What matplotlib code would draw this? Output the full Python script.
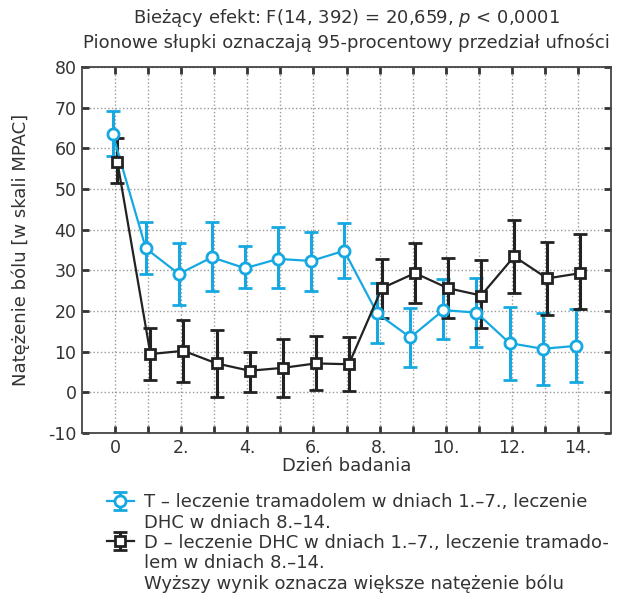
import matplotlib

matplotlib.use("Agg")
import matplotlib.pyplot as plt
from matplotlib.lines import Line2D

plt.rcParams["font.family"] = ["DejaVu Sans"]

# days of the study
DAYS = list(range(15))

# T group: tramadol days 1-7, DHC days 8-14
T_MEAN = [63.5, 35.4, 29.1, 33.2, 30.5, 32.8, 32.3, 34.8, 19.4, 13.5, 20.2, 19.6, 12.1, 10.7, 11.4]
T_LOW = [58.0, 29.0, 21.5, 25.0, 25.6, 25.6, 24.9, 28.0, 12.1, 6.2, 13.0, 11.2, 2.9, 1.8, 2.5]
T_HIGH = [69.2, 41.8, 36.6, 41.8, 36.0, 40.7, 39.5, 41.6, 26.8, 20.8, 27.8, 28.2, 20.9, 19.6, 20.5]

# D group: DHC days 1-7, tramadol days 8-14
D_MEAN = [56.7, 9.4, 10.2, 7.1, 5.3, 6.0, 7.1, 6.9, 25.6, 29.3, 25.6, 23.8, 33.4, 28.0, 29.3]
D_LOW = [51.4, 3.0, 2.6, -1.1, 0.0, -1.2, 0.6, 0.2, 18.2, 21.9, 18.2, 15.7, 24.4, 19.0, 20.4]
D_HIGH = [62.6, 15.7, 17.8, 15.3, 10.0, 13.0, 13.9, 13.7, 32.8, 36.6, 33.0, 32.6, 42.4, 37.0, 38.9]

X_TICKLABELS = ["0", "", "2.", "", "4.", "", "6.", "", "8.", "", "10.", "", "12.", "", "14."]

TITLE = ("Bieżący efekt: F(14, 392) = 20,659, $\\it{p}$ < 0,0001\n"
         "Pionowe słupki oznaczają 95-procentowy przedział ufności")
X_LABEL = "Dzień badania"
Y_LABEL = "Natężenie bólu [w skali MPAC]"
LEGEND_LINES = [
    "T – leczenie tramadolem w dniach 1.–7., leczenie",
    "DHC w dniach 8.–14.",
    "D – leczenie DHC w dniach 1.–7., leczenie tramado-",
    "lem w dniach 8.–14.",
    "Wyższy wynik oznacza większe natężenie bólu",
]

CYAN = "#16a9e1"
DARK = "#222222"
OFFSET = 0.07
FS = 13
TICK_FS = 12.5


def draw(ax, xs, mean, low, high, color, marker, ms):
    yerr = [[m - lo for m, lo in zip(mean, low)], [hi - m for m, hi in zip(mean, high)]]
    return ax.errorbar(
        xs, mean, yerr=yerr,
        color=color, ecolor=color, elinewidth=2.2, capsize=5, capthick=2.2,
        linewidth=1.6, marker=marker, markersize=ms, markerfacecolor="white",
        markeredgecolor=color, markeredgewidth=2.0, zorder=3,
    )


def main():
    fig = plt.figure(figsize=(6.21, 5.98), dpi=100)
    ax = fig.add_axes([0.132, 0.276, 0.852, 0.612])

    t_x = [d - OFFSET for d in DAYS]
    d_x = [d + OFFSET for d in DAYS]
    h_t = draw(ax, t_x, T_MEAN, T_LOW, T_HIGH, CYAN, "o", 8)
    h_d = draw(ax, d_x, D_MEAN, D_LOW, D_HIGH, DARK, "s", 7)

    ax.set_xlim(-1, 15)
    ax.set_ylim(-10, 80)
    ax.set_xticks(DAYS)
    ax.set_xticklabels(X_TICKLABELS, fontsize=TICK_FS, color="#333333")
    ax.set_yticks(range(-10, 81, 10))
    ax.set_yticklabels([str(v) for v in range(-10, 81, 10)], fontsize=TICK_FS, color="#333333")
    ax.tick_params(direction="in", length=5, width=2, color="#333333",
                   top=True, right=True, pad=4)
    ax.grid(True, linestyle=":", color="#999999", linewidth=1.0)
    ax.set_axisbelow(True)
    for sp in ax.spines.values():
        sp.set_linewidth(1.3)
        sp.set_color("#444444")

    ax.set_title(TITLE, fontsize=FS, color="#333333", pad=14, linespacing=1.3)
    ax.set_xlabel(X_LABEL, fontsize=FS, color="#333333", labelpad=0)
    ax.set_ylabel(Y_LABEL, fontsize=FS, color="#333333", labelpad=13)

    blank = Line2D([], [], linestyle="none")
    leg = fig.legend(
        [h_t, blank, h_d, blank, blank], LEGEND_LINES,
        loc="upper left", bbox_to_anchor=(0.16, 0.187), frameon=False,
        fontsize=FS, handlelength=1.5, handletextpad=0.55, labelspacing=0.12,
        borderaxespad=0,
    )
    for txt in leg.get_texts():
        txt.set_color("#333333")

    fig.savefig("out.png", dpi=100)


if __name__ == "__main__":
    main()
